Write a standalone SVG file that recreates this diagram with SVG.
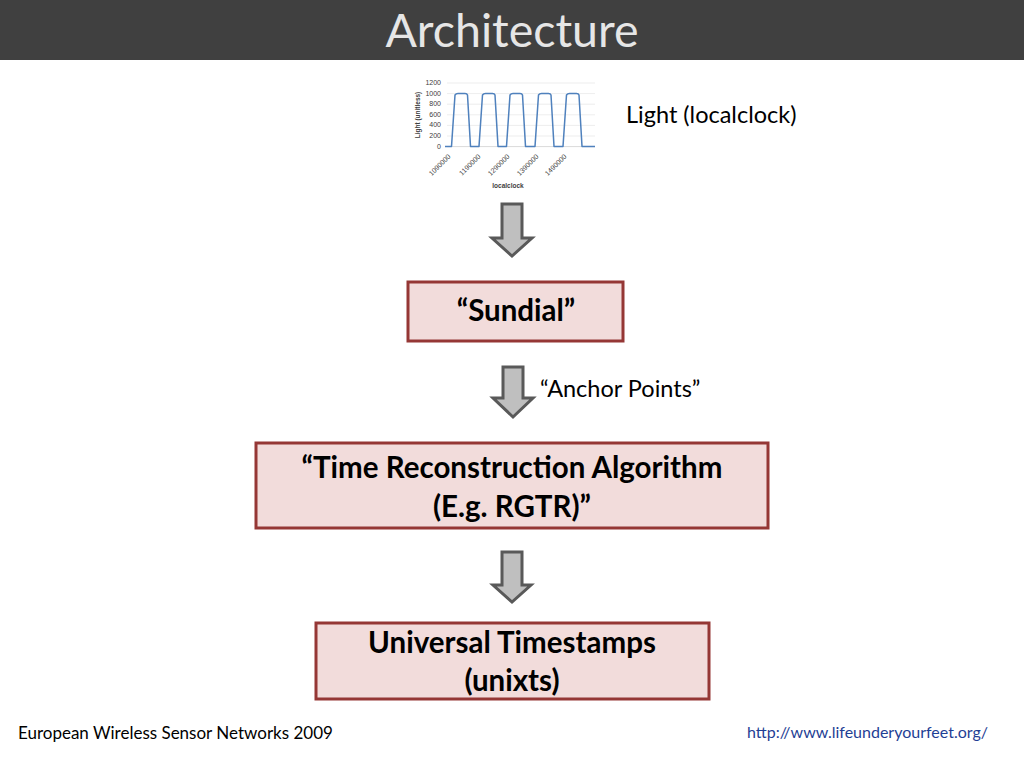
<svg xmlns="http://www.w3.org/2000/svg" width="1024" height="768" viewBox="0 0 1024 768">
<style>
.box{fill:#f2dcdb;stroke:#953735;stroke-width:3}
.arr{fill:#bfbfbf;stroke:#595959;stroke-width:3;stroke-linejoin:miter}
.bt{font-family:Lato,"Open Sans",sans-serif;font-weight:bold;font-size:29.5px;fill:#000;text-anchor:middle}
.nt{font-family:Lato,"Open Sans",sans-serif;font-size:23.5px;fill:#000}
.ax{font-family:"Liberation Sans",Arial,sans-serif;font-size:7px;fill:#404040}
.grid{stroke:#e0e0e0;stroke-width:0.6}
</style>
<rect x="0" y="0" width="1024" height="768" fill="#ffffff"/>
<g id="header">
<rect x="0" y="0" width="1024" height="60" fill="#404040"/>
<text x="512" y="47" text-anchor="middle" font-family="Lato,'Open Sans',sans-serif" font-size="46.5" fill="#e6e6e6">Architecture</text>
</g>
<g id="chart">
<line class="grid" x1="447" y1="83" x2="595" y2="83"/>
<line class="grid" x1="447" y1="93.6" x2="595" y2="93.6"/>
<line class="grid" x1="447" y1="104.2" x2="595" y2="104.2"/>
<line class="grid" x1="447" y1="114.8" x2="595" y2="114.8"/>
<line class="grid" x1="447" y1="125.4" x2="595" y2="125.4"/>
<line class="grid" x1="447" y1="136" x2="595" y2="136"/>
<line x1="447" y1="146.6" x2="595" y2="146.6" stroke="#bfbfbf" stroke-width="0.6"/>
<g class="ax" text-anchor="end">
<text x="441" y="85">1200</text>
<text x="441" y="95.6">1000</text>
<text x="441" y="106.2">800</text>
<text x="441" y="116.8">600</text>
<text x="441" y="127.4">400</text>
<text x="441" y="138">200</text>
<text x="441" y="148.6">0</text>
<text transform="translate(451,157) rotate(-45)">1090000</text>
<text transform="translate(481,157) rotate(-45)">1190000</text>
<text transform="translate(510,157) rotate(-45)">1290000</text>
<text transform="translate(539,157) rotate(-45)">1390000</text>
<text transform="translate(567,157) rotate(-45)">1490000</text>
</g>
<text transform="translate(420,115) rotate(-90)" text-anchor="middle" font-family="'Liberation Sans',Arial,sans-serif" font-size="6.5" font-weight="bold" fill="#404040">Light (unitless)</text>
<text x="508" y="188" text-anchor="middle" font-family="'Liberation Sans',Arial,sans-serif" font-size="6.5" font-weight="bold" fill="#404040">localclock</text>
<path fill="none" stroke="#4f81bd" stroke-width="1.5" stroke-linejoin="round" d="M445,146.4 L451.5,146.4 L455,95 Q456,93.4 458,93.4 L465,93.4 Q467,93.4 467.5,95 L470.5,146.4 L479,146.4 L482.5,95 Q483.5,93.4 485.5,93.4 L492.5,93.4 Q494.5,93.4 495,95 L498,146.4 L506.5,146.4 L510,95 Q511,93.4 513,93.4 L520,93.4 Q522,93.4 522.5,95 L525.5,146.4 L535,146.4 L538.5,95 Q539.5,93.4 541.5,93.4 L548.5,93.4 Q550.5,93.4 551,95 L554,146.4 L563,146.4 L566.5,95 Q567.5,93.4 569.5,93.4 L576.5,93.4 Q578.5,93.4 579,95 L582,146.4 L595,146.4"/>
</g>
<text class="nt" x="626" y="123">Light (localclock)</text>
<g id="connectors">
<polygon class="arr" points="502,204 522,204 522,238 532,238 512,256 492,238 502,238"/>
<polygon class="arr" points="503,367 523,367 523,398 533,398 513,417 493,398 503,398"/>
<polygon class="arr" points="502,552 522,552 522,585 531,585 512,602 493,585 502,585"/>
<text class="nt" x="540" y="397">“Anchor Points”</text>
</g>
<g id="sundial">
<rect class="box" x="408" y="282" width="215" height="59"/>
<text class="bt" x="516" y="321">“Sundial”</text>
</g>
<g id="tra">
<rect class="box" x="256" y="443" width="512" height="85"/>
<text class="bt" x="512" y="478">“Time Reconstruction Algorithm</text>
<text class="bt" x="512" y="517">(E.g. RGTR)”</text>
</g>
<g id="ut">
<rect class="box" x="316" y="623" width="393" height="76"/>
<text class="bt" x="512" y="653">Universal Timestamps</text>
<text class="bt" x="512" y="691">(unixts)</text>
</g>
<g id="footer">
<text x="18" y="739" font-family="Lato,'Open Sans',sans-serif" font-size="17" fill="#000">European Wireless Sensor Networks 2009</text>
<text x="988" y="738" text-anchor="end" font-family="Lato,'Open Sans',sans-serif" font-size="16" fill="#1f3f95">http://www.lifeunderyourfeet.org/</text>
</g>
</svg>
